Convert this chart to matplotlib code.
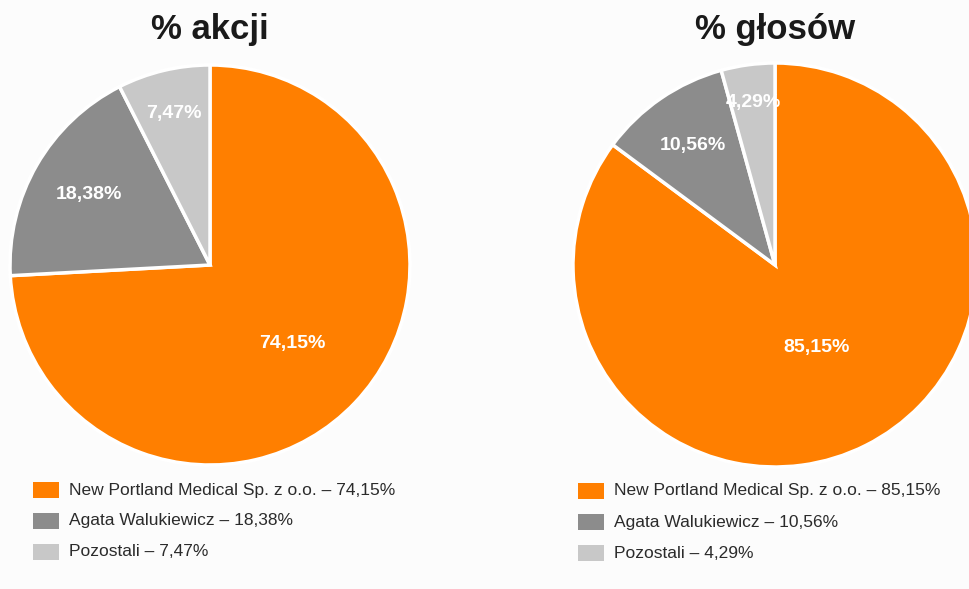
import matplotlib.pyplot as plt
from matplotlib.patches import Rectangle

# Data
categories = ["New Portland Medical Sp. z o.o.", "Agata Walukiewicz", "Pozostali"]
shares = [74.15, 18.38, 7.47]
votes = [85.15, 10.56, 4.29]
titles = ["% akcji", "% głosów"]
colors = ["#ff7f00", "#8c8c8c", "#c8c8c8"]

W, H = 969, 589
plt.rcParams["font.family"] = ["Liberation Sans", "DejaVu Sans"]
fig = plt.figure(figsize=(W / 100, H / 100), dpi=100, facecolor="#fcfcfc")


def fx(px):
    return px / W


def fy(py):
    return 1 - py / H


def fmt(v):
    return f"{v:.2f}%".replace(".", ",")


# Pie centres / radii in pixels, and per-slice label distances
layouts = [
    dict(cx=210, cy=265, r=200, dist=[0.57, 0.70, 0.78], legx=33, rows=[490, 521, 552]),
    dict(cx=775, cy=265, r=202, dist=[0.46, 0.72, 0.81], legx=578, rows=[491, 522, 553]),
]

for values, title, lay in zip([shares, votes], titles, layouts):
    r = lay["r"]
    ax = fig.add_axes([fx(lay["cx"] - r), fy(lay["cy"] + r), fx(2 * r), 2 * r / H])
    wedges, _ = ax.pie(values, colors=colors, startangle=90, counterclock=False,
                       radius=1, wedgeprops=dict(edgecolor="white", linewidth=2.5))
    ax.set_xlim(-1, 1)
    ax.set_ylim(-1, 1)
    ax.axis("off")

    import numpy as np
    for w, v, d in zip(wedges, values, lay["dist"]):
        ang = np.deg2rad((w.theta1 + w.theta2) / 2)
        ax.text(d * np.cos(ang), d * np.sin(ang), fmt(v), color="white",
                fontsize=14, fontweight="bold", ha="center", va="center")

    fig.text(fx(lay["cx"]), fy(30), title, fontsize=25, fontweight="bold",
             color="#1a1a1a", ha="center", va="center")

    # Legend
    for cat, v, c, ry in zip(categories, values, colors, lay["rows"]):
        fig.patches.append(Rectangle((fx(lay["legx"]), fy(ry + 8)), fx(26), 16 / H,
                                     transform=fig.transFigure, facecolor=c,
                                     edgecolor="none"))
        fig.text(fx(lay["legx"] + 36), fy(ry), f"{cat} – {fmt(v)}", fontsize=12.5,
                 color="#2b2b2b", ha="left", va="center")

fig.savefig("out.png", dpi=100, facecolor=fig.get_facecolor())
